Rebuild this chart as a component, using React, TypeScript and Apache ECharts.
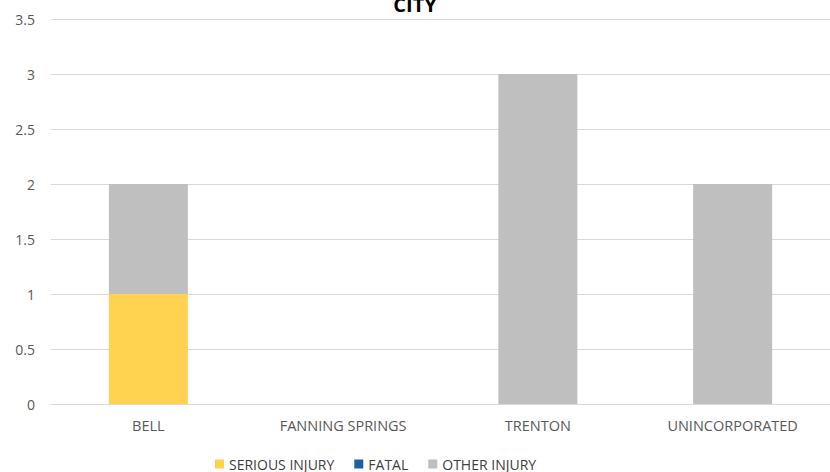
import React, { useEffect, useRef } from "react";
import * as echarts from "echarts";

const categories = ["BELL", "FANNING SPRINGS", "TRENTON", "UNINCORPORATED"];
const seriousInjury = [1, 0, 0, 0];
const fatal = [0, 0, 0, 0];
const otherInjury = [1, 0, 3, 2];
const seriesNames = ["SERIOUS INJURY", "FATAL", "OTHER INJURY"];
const colors = ["#FFD34F", "#1F5FA8", "#BFBFBF"];

const FONT = "'Open Sans', 'Noto Sans', sans-serif";

export default function App() {
  const ref = useRef<HTMLDivElement>(null);
  useEffect(() => {
    if (!ref.current) return;
    const chart = echarts.init(ref.current, null, { renderer: "svg" });
    const data = [seriousInjury, fatal, otherInjury];
    chart.setOption({
      animation: false,
      title: {
        text: "CITY",
        left: "center",
        top: -11,
        textStyle: { fontSize: 20, fontWeight: "bold", color: "#000", fontFamily: FONT },
      },
      legend: {
        data: seriesNames,
        left: 210,
        top: 451,
        itemWidth: 9,
        itemHeight: 9,
        itemGap: 20,
        icon: "rect",
        textStyle: { fontSize: 14, lineHeight: 16, color: "#404040", fontFamily: FONT },
      },
      grid: { left: 51, top: 19, width: 784, height: 385, containLabel: false },
      xAxis: {
        type: "category",
        data: categories,
        axisLine: { lineStyle: { color: "#D9D9D9" } },
        axisTick: { show: false },
        axisLabel: { color: "#595959", fontSize: 14.5, margin: 14, fontFamily: FONT },
      },
      yAxis: {
        type: "value",
        min: 0,
        max: 3.5,
        interval: 0.5,
        axisLine: { show: false },
        axisTick: { show: false },
        splitLine: { lineStyle: { color: "#D9D9D9" } },
        axisLabel: { color: "#595959", fontSize: 14, margin: 16, fontFamily: FONT },
      },
      series: seriesNames.map((name, i) => ({
        name,
        type: "bar",
        stack: "total",
        barWidth: 79,
        data: data[i],
        itemStyle: { color: colors[i] },
      })),
    });
    return () => chart.dispose();
  }, []);
  return (
    <div
      ref={ref}
      style={{ position: "fixed", left: 0, top: 0, width: 830, height: 472, background: "#fff" }}
    />
  );
}
